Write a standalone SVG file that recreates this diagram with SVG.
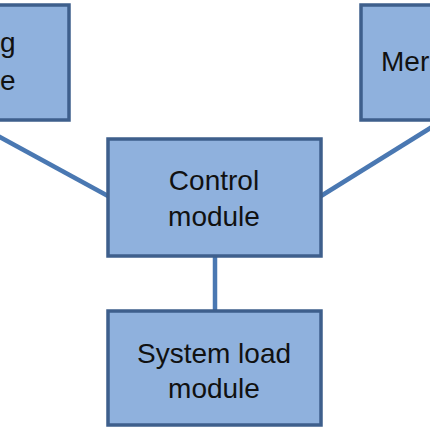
<svg xmlns="http://www.w3.org/2000/svg" width="430" height="430" viewBox="0 0 430 430">
<style>
.box{fill:#8FB1DD;stroke:#3E5F8C;stroke-width:3.5}
.t{font-family:"Liberation Sans",Arial,sans-serif;font-size:28px;fill:#111;text-anchor:middle}
.c{stroke:#4A78B2;stroke-width:4.5;fill:none}
</style>
<rect width="430" height="430" fill="#fff"/>
<g id="connectors">
<line class="c" x1="-2" y1="136" x2="108" y2="196"/>
<line class="c" x1="432" y1="127" x2="321" y2="196"/>
<line class="c" x1="215" y1="257" x2="215" y2="311"/>
</g>
<g id="left">
<rect class="box" x="-140" y="5" width="209" height="115"/>
<text class="t" x="0" y="52" style="text-anchor:start">g</text>
<text class="t" x="0" y="90" style="text-anchor:start">e</text>
</g>
<g id="right">
<rect class="box" x="361" y="5" width="209" height="115"/>
<text class="t" x="381" y="71" style="text-anchor:start">Mer</text>
</g>
<g id="control">
<rect class="box" x="108" y="139" width="213" height="117"/>
<text class="t" x="214" y="190">Control</text>
<text class="t" x="214" y="226">module</text>
</g>
<g id="sysload">
<rect class="box" x="108" y="311" width="213" height="114"/>
<text class="t" x="214" y="363">System load</text>
<text class="t" x="214" y="398">module</text>
</g>
</svg>
